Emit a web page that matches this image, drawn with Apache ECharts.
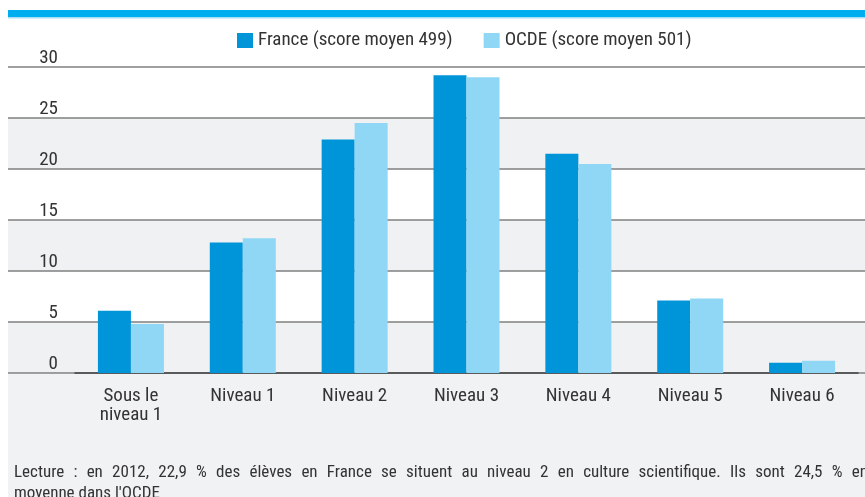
<!DOCTYPE html>
<html>
<head>
<meta charset="utf-8">
<script src="https://cdn.jsdelivr.net/npm/echarts@6/dist/echarts.min.js"></script>
<style>
html,body{margin:0;padding:0;background:#ffffff;}
#chart{width:865px;height:497px;}
</style>
</head>
<body>
<div id="chart"></div>
<script>
const categories = ['Sous le\nniveau 1', 'Niveau 1', 'Niveau 2', 'Niveau 3', 'Niveau 4', 'Niveau 5', 'Niveau 6'];
const franceValues = [6.1, 12.8, 22.9, 29.2, 21.5, 7.1, 1.0];
const ocdeValues = [4.8, 13.2, 24.5, 29.0, 20.5, 7.3, 1.2];
const seriesNames = ['France (score moyen 499)', 'OCDE (score moyen 501)'];
const yMin = 0, yMax = 30, yStep = 5;
const captionLine1 = "Lecture : en 2012, 22,9 % des élèves en France se situent au niveau 2 en culture scientifique. Ils sont 24,5 % en";
const captionLine2 = "moyenne dans l'OCDE";

const FONT = '"Roboto Condensed", "Liberation Sans Narrow", sans-serif';
const TXT = '#333333';
const GRID_TOP = 67, GRID_BOTTOM = 124;

function justifiedWords(text, x0, x1, y, fontSize) {
  const c = document.createElement('canvas').getContext('2d');
  c.font = fontSize + 'px ' + FONT;
  const words = text.split(' ');
  const widths = words.map(w => c.measureText(w).width);
  const total = widths.reduce((a, b) => a + b, 0);
  const gap = (x1 - x0 - total) / (words.length - 1);
  let x = x0;
  return words.map((w, i) => {
    const el = {
      type: 'text', x: x, y: y, z: 5,
      style: { text: w, font: fontSize + 'px ' + FONT, fill: TXT, verticalAlign: 'bottom' }
    };
    x += widths[i] + gap;
    return el;
  });
}

const chart = echarts.init(document.getElementById('chart'), null, { renderer: 'canvas' });
chart.setOption({
  animation: false,
  backgroundColor: '#ffffff',
  textStyle: { fontFamily: FONT },
  legend: {
    top: 26, left: 232,
    itemWidth: 16, itemHeight: 15, itemGap: 31,
    icon: 'rect',
    textStyle: { fontFamily: FONT, fontSize: 19, color: TXT },
    data: seriesNames
  },
  grid: [
    { left: 75, right: 7, top: GRID_TOP, bottom: GRID_BOTTOM },
    { left: 8, right: 0, top: GRID_TOP, bottom: GRID_BOTTOM }
  ],
  xAxis: [
    {
      type: 'category', gridIndex: 0, data: categories,
      axisLine: { lineStyle: { color: '#444444', width: 1.5 } },
      axisTick: { length: 5, lineStyle: { color: '#444444', width: 1 } },
      axisLabel: { fontFamily: FONT, fontSize: 19, color: TXT, lineHeight: 19, margin: 14, interval: 0 }
    },
    { type: 'value', gridIndex: 1, show: false, min: 0, max: 1 }
  ],
  yAxis: [
    {
      type: 'value', gridIndex: 0, min: yMin, max: yMax, interval: yStep,
      axisLine: { show: false }, axisTick: { show: false }, splitLine: { show: false },
      axisLabel: { fontFamily: FONT, fontSize: 19, color: TXT, margin: 17, verticalAlign: 'bottom', lineHeight: 18 }
    },
    {
      type: 'value', gridIndex: 1, min: yMin, max: yMax, interval: yStep,
      axisLine: { show: false }, axisTick: { show: false }, axisLabel: { show: false },
      splitLine: { show: true, lineStyle: { color: '#7f7f7f', width: 1.5 } },
      splitArea: { show: true, areaStyle: { color: ['#f0f1f3', '#ffffff'] } }
    }
  ],
  series: [
    {
      name: seriesNames[0], type: 'bar', xAxisIndex: 0, yAxisIndex: 0,
      data: franceValues, barWidth: 33, barGap: '0%',
      itemStyle: { color: '#0095d9' }
    },
    {
      name: seriesNames[1], type: 'bar', xAxisIndex: 0, yAxisIndex: 0,
      data: ocdeValues, barWidth: 33, barGap: '0%',
      itemStyle: { color: '#8fd7f5' }
    }
  ],
  graphic: [
    { type: 'rect', z: -1, shape: { x: 8, y: 10, width: 857, height: 7 }, style: { fill: '#00aeef' } },
    { type: 'rect', z: -1, shape: { x: 8, y: 17, width: 857, height: 1.5 }, style: { fill: '#a6def6' } },
    { type: 'rect', z: -1, silent: true, shape: { x: 8, y: 374, width: 857, height: 123 }, style: { fill: '#f1f2f4' } },
    ...justifiedWords(captionLine1, 14, 868, 481, 17),
    { type: 'text', x: 14, y: 502, z: 5, style: { text: captionLine2, font: '17px ' + FONT, fill: TXT, verticalAlign: 'bottom' } }
  ]
});
</script>
</body>
</html>
